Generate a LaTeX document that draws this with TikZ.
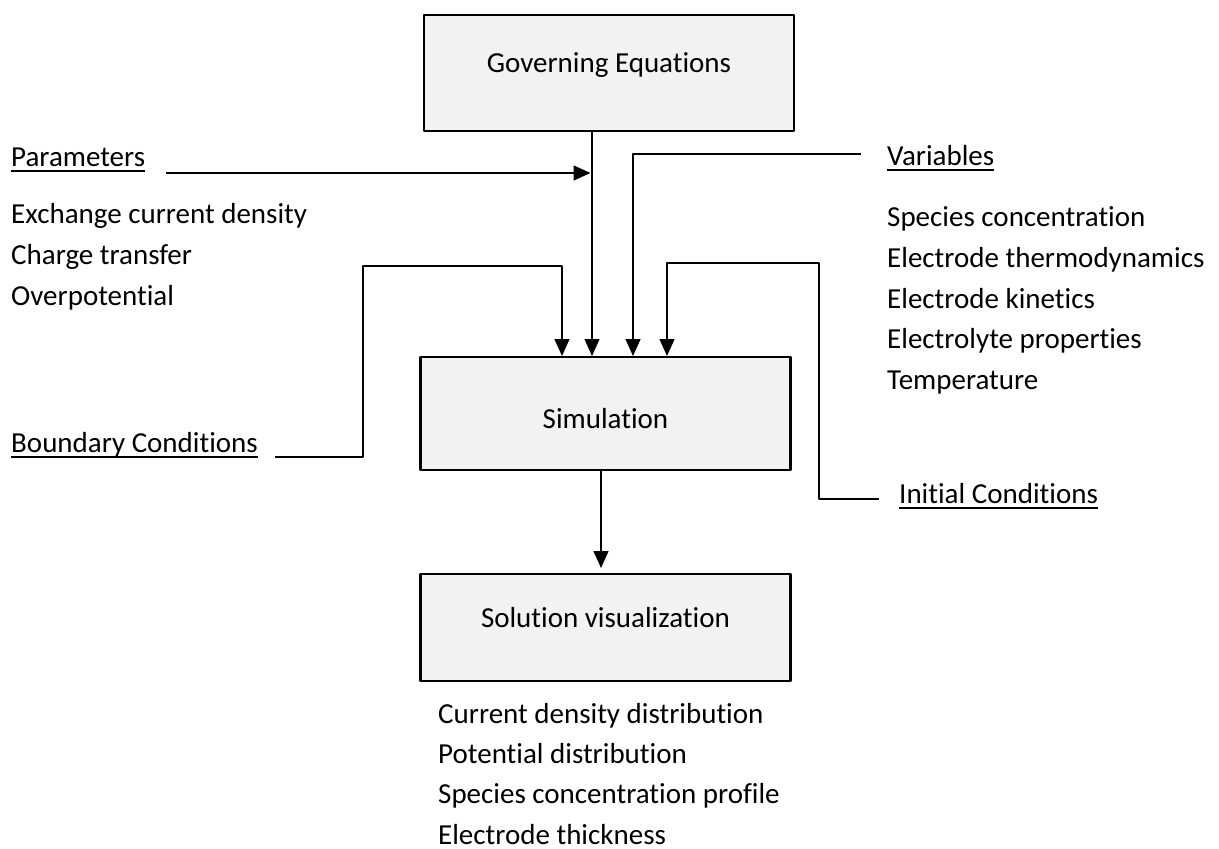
\documentclass[tikz,border=0pt]{standalone}
\usepackage{fontspec}
\setmainfont{Carlito}[Ligatures={NoCommon,NoContextual}]
\usetikzlibrary{arrows.meta}
\definecolor{boxfill}{HTML}{F2F2F2}
% underlined heading, rule at a fixed depth
\newcommand{\undl}[1]{\setbox0\hbox{#1}\rlap{\rule[-6bp]{\wd0}{1.6bp}}\box0}
\tikzset{
  blk/.style={draw,line width=2.8bp,fill=boxfill,minimum width=370bp,minimum height=116bp,inner sep=0pt,font=\fontsize{29bp}{35bp}\selectfont},
  txt/.style={anchor=base west,inner sep=0pt,font=\fontsize{29bp}{35bp}\selectfont},
  wire/.style={black,line width=1.2bp},
}
\begin{document}
\begin{tikzpicture}[>={Triangle[width=15bp,length=17bp]},line join=bevel,]
\useasboundingbox (0bp,0bp) rectangle (1219bp,-849bp);
%%
\node (gov) at (609bp,-73bp) [blk,text height=20bp,text depth=22bp] {Governing Equations};
  \node (sim) at (605.5bp,-413.5bp) [blk,minimum height=113bp,text height=29bp,text depth=0bp] {Simulation};
  \node (sol) at (605.5bp,-627.5bp) [blk,minimum height=107bp,text height=20bp,text depth=21bp] {Solution visualization};
  \node (par) at (11bp,-166bp) [txt] {\undl{Parameters}};
  \node (par1) at (11bp,-223bp) [txt] {Exchange current density};
  \node (par2) at (11bp,-264bp) [txt] {Charge transfer};
  \node (par3) at (11bp,-305bp) [txt] {Overpotential};
  \node (bc) at (11bp,-452bp) [txt] {\undl{Boundary Conditions}};
  \node (var) at (887bp,-165bp) [txt] {\undl{Variables}};
  \node (var1) at (887bp,-226bp) [txt] {Species concentration};
  \node (var2) at (887bp,-267bp) [txt] {Electrode thermodynamics};
  \node (var3) at (887bp,-308bp) [txt] {Electrode kinetics};
  \node (var4) at (887bp,-348bp) [txt] {Electrolyte properties};
  \node (var5) at (887bp,-389bp) [txt] {Temperature};
  \node (ic) at (899bp,-503bp) [txt] {\undl{Initial Conditions}};
  \node (out1) at (438bp,-723bp) [txt] {Current density distribution};
  \node (out2) at (438bp,-763bp) [txt] {Potential distribution};
  \node (out3) at (438bp,-803bp) [txt] {Species concentration profile};
  \node (out4) at (438bp,-844bp) [txt] {Electrode thickness};
%
  \coordinate (parA) at (166bp,-173bp);
  \coordinate (varA) at (861bp,-154bp);
  \coordinate (bcA) at (275bp,-457bp);
  \coordinate (bcB) at (363bp,-266bp);
  \coordinate (icA) at (879bp,-499bp);
  \coordinate (icB) at (819bp,-263bp);
  \coordinate (bcIn) at (562bp,-356bp);
  \coordinate (govIn) at (592bp,-356bp);
  \coordinate (varIn) at (633bp,-356bp);
  \coordinate (icIn) at (667bp,-356bp);
  \coordinate (solIn) at (601bp,-568bp);
%
  \draw [wire,->] (parA) -- ([xshift=-1.5bp]parA -| govIn);
  \draw [wire,->] (gov.south -| govIn) -- (govIn);
  \draw [wire,->] (varA) -| (varIn);
  \draw [wire,->] (bcA) -| (bcB) -| (bcIn);
  \draw [wire,->] (icA) -| (icB) -| (icIn);
  \draw [wire,->] (sim.south -| solIn) -- (solIn);
%
\end{tikzpicture}
\end{document}
